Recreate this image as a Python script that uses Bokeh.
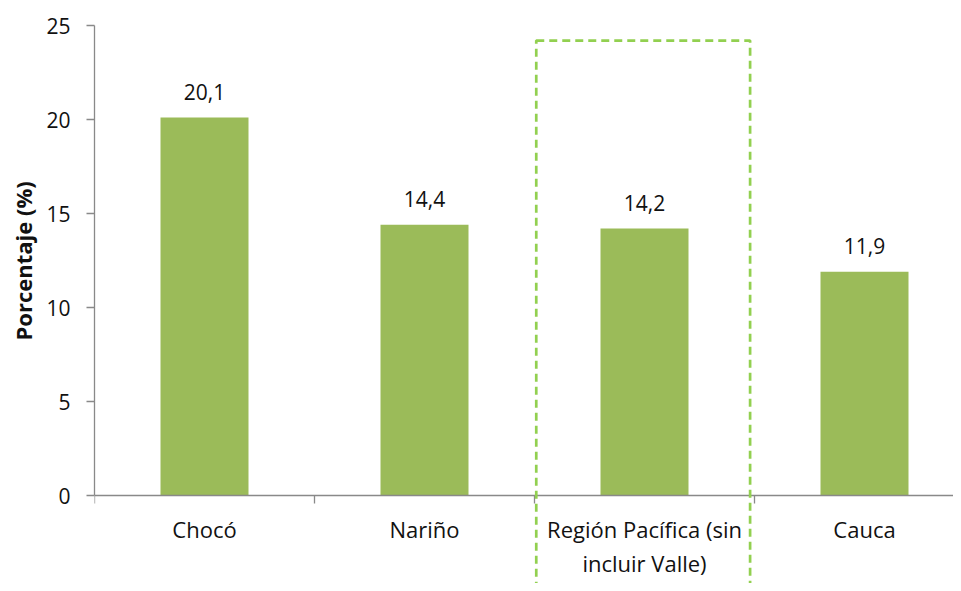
from bokeh.plotting import figure
from bokeh.models import Range1d, FixedTicker, BoxAnnotation, ColumnDataSource, Title
from bokeh.core.properties import value
from bokeh.embed import file_html
from bokeh.resources import INLINE

categories = ["Chocó", "Nariño", "Región Pacífica (sin\nincluir Valle)", "Cauca"]
values = [20.1, 14.4, 14.2, 11.9]
value_labels = ["20,1", "14,4", "14,2", "11,9"]
y_ticks = [0, 5, 10, 15, 20, 25]
y_title = "Porcentaje (%)"
highlight_index = 2

FONT = "Open Sans"
BAR = "#9BBB59"
AXIS = "#898989"
TEXT = "#111111"

centers = [i + 0.5 for i in range(len(categories))]
src = ColumnDataSource(dict(x=centers, top=values, label=value_labels))

p = figure(width=953, height=583, output_backend="svg", toolbar_location=None,
           x_range=Range1d(0, (953 - 94) / 220), y_range=Range1d(-88 / 18.8, 25),
           min_border_left=94, min_border_right=0, min_border_top=25, min_border_bottom=0)
p.outline_line_color = None
p.grid.grid_line_color = None
p.background_fill_color = "white"

p.vbar(x="x", top="top", width=0.4, bottom=0, source=src, fill_color=BAR, line_color=None)
p.text(x="x", y="top", text="label", source=src, text_align="center", text_baseline="middle",
       y_offset=-26, text_font=value(FONT), text_font_size="21px", text_color=TEXT)

box = BoxAnnotation(left=highlight_index + 0.008, right=highlight_index + 0.98, top=24.2, bottom=-6,
                    fill_alpha=0, fill_color=None, line_color="#92D050", line_alpha=1.0,
                    line_width=2.7, line_dash="8 5", level="overlay")
p.add_layout(box)

xa = p.xaxis[0]
xa.fixed_location = 0
xa.ticker = FixedTicker(ticks=centers, minor_ticks=list(range(len(categories) + 1)))
xa.major_label_overrides = {c: lab for c, lab in zip(centers, categories)}
xa.major_tick_out = 0
xa.major_tick_in = 0
xa.minor_tick_out = 8
xa.minor_tick_in = 0
xa.minor_tick_line_color = AXIS
xa.minor_tick_line_width = 1.3
xa.axis_line_color = AXIS
xa.axis_line_width = 1.3
xa.major_label_standoff = 10
xa.major_label_text_font = FONT
xa.major_label_text_font_size = "22px"
xa.major_label_text_line_height = 1.15
xa.major_label_text_color = TEXT

ya = p.yaxis[0]
ya.bounds = (0, 25)
ya.ticker = FixedTicker(ticks=y_ticks, minor_ticks=[])
ya.major_tick_out = 8
ya.major_tick_in = 0
ya.major_tick_line_color = AXIS
ya.major_tick_line_width = 1.3
ya.axis_line_color = AXIS
ya.axis_line_width = 1.3
ya.major_label_standoff = 16
ya.major_label_text_font = FONT
ya.major_label_text_font_size = "21px"
ya.major_label_text_color = TEXT

t = Title(text=y_title, align="left", offset=243, text_font=FONT, text_font_style="bold",
          text_font_size="22px", text_color=TEXT, standoff=11)
p.add_layout(t, "left")

open("out.html", "w").write(file_html(p, INLINE))
